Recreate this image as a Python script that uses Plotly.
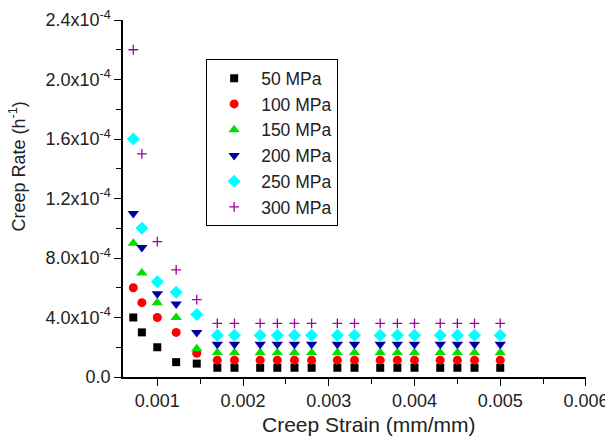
import plotly.graph_objects as go

# ---- data ----
strain = [0.00072, 0.00082, 0.00100, 0.00122, 0.00146,
          0.0017, 0.0019, 0.0022, 0.0024, 0.0026, 0.0028,
          0.0031, 0.0033, 0.0036, 0.0038, 0.0040,
          0.0043, 0.0045, 0.0047, 0.0050]

rate_50 = [0.40e-4, 0.30e-4, 0.20e-4, 0.10e-4, 0.09e-4] + [0.062e-4] * 15
rate_100 = [0.60e-4, 0.50e-4, 0.40e-4, 0.30e-4, 0.16e-4] + [0.113e-4] * 15
rate_150 = [0.90e-4, 0.70e-4, 0.50e-4, 0.40e-4, 0.19e-4] + [0.163e-4] * 15
rate_200 = [1.10e-4, 0.87e-4, 0.56e-4, 0.49e-4, 0.30e-4] + [0.22e-4] * 15
rate_250 = [1.60e-4, 1.00e-4, 0.64e-4, 0.57e-4, 0.42e-4] + [0.28e-4] * 15
rate_300 = [2.20e-4, 1.50e-4, 0.91e-4, 0.72e-4, 0.52e-4] + [0.36e-4] * 15

series_names = ["50 MPa", "100 MPa", "150 MPa", "200 MPa", "250 MPa", "300 MPa"]
series_values = [rate_50, rate_100, rate_150, rate_200, rate_250, rate_300]

y_tickvals = [0, 0.4e-4, 0.8e-4, 1.2e-4, 1.6e-4, 2.0e-4, 2.4e-4]
y_ticktext = ["0.0", "4.0x10<sup>-4</sup>", "8.0x10<sup>-4</sup>", "1.2x10<sup>-4</sup>",
              "1.6x10<sup>-4</sup>", "2.0x10<sup>-4</sup>", "2.4x10<sup>-4</sup>"]
x_tickvals = [0.001, 0.002, 0.003, 0.004, 0.005, 0.006]
x_ticktext = ["0.001", "0.002", "0.003", "0.004", "0.005", "0.006"]

x_title = "Creep Strain (mm/mm)"
y_title = "Creep Rate (h<sup>-1</sup>)"

# ---- styles ----
colors = ["#000000", "#FF0000", "#00E000", "#0000A0", "#00FFFF", "#A000A8"]
symbols = ["square", "circle", "triangle-up", "triangle-down", "diamond", "cross-thin"]
sizes = [8, 9, 10, 10, 10, 7]

FONT = "Arial, Liberation Sans, sans-serif"
TXT = "#222222"

fig = go.Figure()
for i, (name, vals) in enumerate(zip(series_names, series_values)):
    marker = dict(color=colors[i], symbol=symbols[i], size=sizes[i])
    if symbols[i] == "cross-thin":
        marker["line"] = dict(color=colors[i], width=1.3)
    fig.add_trace(go.Scatter(
        x=strain, y=vals, mode="markers", name=name,
        marker=marker, cliponaxis=False,
    ))

axis_common = dict(
    showgrid=False, zeroline=False, showline=True, linecolor="#000000", linewidth=1.5,
    ticks="outside", ticklen=7, tickwidth=1.2, tickcolor="#000000",
    tickfont=dict(family=FONT, size=18, color=TXT),
    minor=dict(ticks="outside", ticklen=5, tickwidth=1.2, tickcolor="#000000"),
    automargin=False, ticklabeloverflow="allow",
)

fig.update_xaxes(
    range=[0.0006, 0.0060001], tickmode="array", tickvals=x_tickvals, ticktext=x_ticktext,
    minor_dtick=0.0005, minor_tick0=0,
    **axis_common,
)
fig.update_yaxes(
    range=[0, 2.4e-4], tickmode="array", tickvals=y_tickvals, ticktext=y_ticktext,
    minor_dtick=0.2e-4, minor_tick0=0,
    **axis_common,
)

# axis titles placed as annotations (offset like the reference)
fig.add_annotation(
    text=x_title, xref="paper", yref="paper", x=0.5, y=0, xanchor="center", yanchor="middle",
    xshift=14, yshift=-47, showarrow=False, font=dict(family=FONT, size=21, color=TXT),
)
fig.add_annotation(
    text=y_title, xref="paper", yref="paper", x=0, y=0.5, xanchor="center", yanchor="middle",
    xshift=-105, yshift=32, textangle=-90, showarrow=False,
    font=dict(family=FONT, size=18, color=TXT),
)

fig.update_layout(
    width=605, height=436,
    margin=dict(l=123, r=19, t=20, b=59),
    paper_bgcolor="white", plot_bgcolor="white",
    font=dict(family=FONT, color=TXT),
    legend=dict(
        x=0.1796, y=0.89, xanchor="left", yanchor="top",
        bordercolor="#000000", borderwidth=1, bgcolor="white",
        font=dict(family=FONT, size=17.5, color=TXT),
        itemwidth=44,
    ),
)

fig.write_html(
    "out.html",
    config={"displayModeBar": False},
    post_script="document.body.style.margin='0';document.body.style.overflow='hidden';",
)
